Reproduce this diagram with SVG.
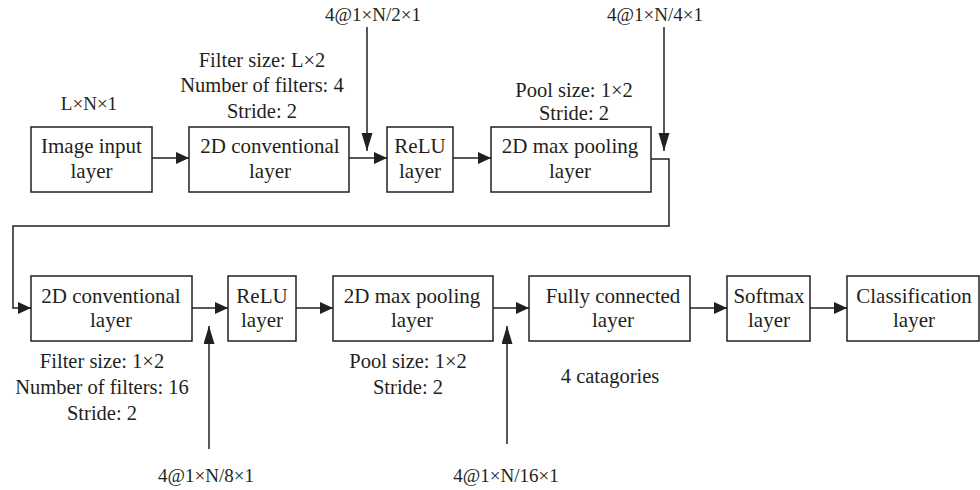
<svg xmlns="http://www.w3.org/2000/svg" width="980" height="490" viewBox="0 0 980 490">
  <defs>
    <style>
      .box { fill: #ffffff; stroke: #231f20; stroke-width: 1.5; }
      .wire { fill: none; stroke: #231f20; stroke-width: 1.5; }
      text { font-family: "Liberation Serif", "Times New Roman", serif; fill: #231f20; text-anchor: middle; }
      .t { font-size: 21px; }
      .n { font-size: 20.5px; }
      .dim { font-size: 19px; }
    </style>
    <marker id="ah" markerUnits="userSpaceOnUse" markerWidth="14" markerHeight="12" refX="13" refY="6" orient="auto">
      <path d="M0,0 L13,6 L0,12 z" fill="#231f20"/>
    </marker>
    <marker id="av" markerUnits="userSpaceOnUse" markerWidth="19" markerHeight="12" refX="18" refY="5.5" orient="auto">
      <path d="M0,0 L18,5.5 L0,11 z" fill="#231f20"/>
    </marker>
  </defs>

  <rect width="980" height="490" fill="#ffffff"/>

  <!-- connectors -->
  <g id="connectors">
    <line class="wire" x1="152" y1="158" x2="189" y2="158" marker-end="url(#ah)"/>
    <line class="wire" x1="349" y1="158" x2="387" y2="158" marker-end="url(#ah)"/>
    <line class="wire" x1="453" y1="158" x2="491" y2="158" marker-end="url(#ah)"/>
    <line class="wire" x1="367" y1="27" x2="367" y2="151" marker-end="url(#av)"/>
    <line class="wire" x1="664" y1="27" x2="664" y2="151" marker-end="url(#av)"/>
    <polyline class="wire" points="651,159 669,159 669,226 13,226 13,308 31,308" marker-end="url(#ah)"/>
    <line class="wire" x1="192" y1="308" x2="228" y2="308" marker-end="url(#ah)"/>
    <line class="wire" x1="296" y1="308" x2="333" y2="308" marker-end="url(#ah)"/>
    <line class="wire" x1="493" y1="308" x2="529" y2="308" marker-end="url(#ah)"/>
    <line class="wire" x1="690" y1="308" x2="727" y2="308" marker-end="url(#ah)"/>
    <line class="wire" x1="810" y1="308" x2="847" y2="308" marker-end="url(#ah)"/>
    <line class="wire" x1="209" y1="449" x2="209" y2="326" marker-end="url(#av)"/>
    <line class="wire" x1="507" y1="444" x2="507" y2="326" marker-end="url(#av)"/>
  </g>

  <!-- first row -->
  <g id="input">
    <rect class="box" x="31" y="127" width="121" height="65"/>
    <text class="t" x="91.5" y="153">Image input</text>
    <text class="t" x="91.5" y="178">layer</text>
  </g>
  <g id="conv1">
    <rect class="box" x="189" y="127" width="160" height="65"/>
    <text class="t" x="270" y="153">2D conventional</text>
    <text class="t" x="270" y="178">layer</text>
  </g>
  <g id="relu1">
    <rect class="box" x="387" y="127" width="66" height="65"/>
    <text class="t" x="420" y="153">ReLU</text>
    <text class="t" x="420" y="178">layer</text>
  </g>
  <g id="pool1">
    <rect class="box" x="491" y="127" width="160" height="65"/>
    <text class="t" x="570" y="153">2D max pooling</text>
    <text class="t" x="570" y="178">layer</text>
  </g>

  <!-- second row -->
  <g id="conv2">
    <rect class="box" x="31" y="276" width="161" height="65"/>
    <text class="t" x="111" y="303">2D conventional</text>
    <text class="t" x="111" y="327">layer</text>
  </g>
  <g id="relu2">
    <rect class="box" x="228" y="276" width="68" height="65"/>
    <text class="t" x="262" y="303">ReLU</text>
    <text class="t" x="262" y="327">layer</text>
  </g>
  <g id="pool2">
    <rect class="box" x="333" y="276" width="160" height="65"/>
    <text class="t" x="412" y="303">2D max pooling</text>
    <text class="t" x="412" y="327">layer</text>
  </g>
  <g id="fc">
    <rect class="box" x="529" y="276" width="161" height="65"/>
    <text class="t" x="613" y="303">Fully connected</text>
    <text class="t" x="613" y="327">layer</text>
  </g>
  <g id="softmax">
    <rect class="box" x="727" y="276" width="83" height="65"/>
    <text class="t" x="769" y="303">Softmax</text>
    <text class="t" x="769" y="327">layer</text>
  </g>
  <g id="classification">
    <rect class="box" x="847" y="276" width="132" height="65"/>
    <text class="t" x="914" y="303">Classification</text>
    <text class="t" x="914" y="327">layer</text>
  </g>

  <!-- annotations -->
  <g id="labels">
    <text class="dim" x="89" y="110">L×N×1</text>
    <text class="n" x="262" y="67">Filter size: L×2</text>
    <text class="n" x="262" y="92">Number of filters: 4</text>
    <text class="n" x="262" y="118">Stride: 2</text>
    <text class="dim" x="373" y="21">4@1×N/2×1</text>
    <text class="n" x="574" y="97">Pool size: 1×2</text>
    <text class="n" x="574" y="120">Stride: 2</text>
    <text class="dim" x="655" y="21">4@1×N/4×1</text>
    <text class="n" x="102" y="368">Filter size: 1×2</text>
    <text class="n" x="102" y="394">Number of filters: 16</text>
    <text class="n" x="102" y="420">Stride: 2</text>
    <text class="n" x="408" y="368">Pool size: 1×2</text>
    <text class="n" x="408" y="394">Stride: 2</text>
    <text class="n" x="610" y="383">4 catagories</text>
    <text class="dim" x="206" y="482">4@1×N/8×1</text>
    <text class="dim" x="506" y="482">4@1×N/16×1</text>
  </g>
</svg>
